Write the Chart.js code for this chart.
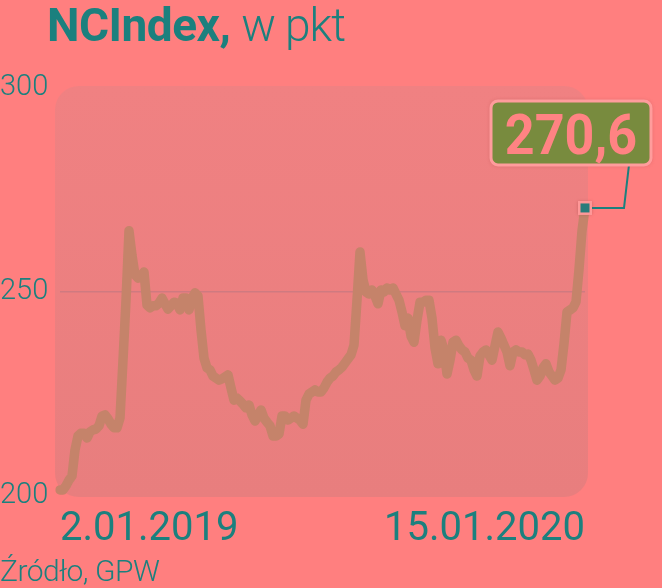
<!DOCTYPE html>
<html lang="pl">
<head>
<meta charset="utf-8">
<title>NCIndex</title>
<script src="https://cdn.jsdelivr.net/npm/chart.js@4/dist/chart.umd.min.js"></script>
<style>
  html, body { margin: 0; padding: 0; }
  body {
    width: 662px; height: 588px; overflow: hidden; position: relative;
    background: #ff7f7f; font-family: Roboto, "Noto Sans", sans-serif; color: #1b807e;
  }
  #wrap { position: absolute; left: 0; top: 0; width: 662px; height: 588px; }
  .tytul { position: absolute; left: 47px; top: 1px; font-size: 46px; line-height: 48px; white-space: nowrap; letter-spacing: -0.5px; }
  .tytul b { font-weight: 700; }
  .tytul span { font-weight: 300; letter-spacing: -1px; }
  .zrodlo { position: absolute; left: 0; top: 556px; font-size: 30px; line-height: 30px; font-weight: 300; letter-spacing: -0.5px; }
</style>
</head>
<body>
<div id="wrap"><canvas id="wykres" width="662" height="588"></canvas></div>
<div class="tytul"><b>NCIndex,</b> <span>w pkt</span></div>
<div class="zrodlo">Źródło, GPW</div>
<script>
// ── Dane ──
const DATA_START = '2.01.2019';
const DATA_KONIEC = '15.01.2020';
const OS_Y = [200, 250, 300];
const OSTATNIA = '270,6';

const notowania = [
  201.5, 201.5, 202.5, 203.9, 204.9, 211.3, 214.7, 215.4, 215.4, 214.2,
  215.7, 216.2, 216.4, 217.2, 219.6, 219.9, 218.9, 217.6, 216.7, 216.7,
  219.1, 233.3, 248.0, 265.0, 259.0, 254.2, 253.4, 253.9, 254.9, 246.8,
  246.1, 246.6, 246.6, 247.3, 248.5, 247.1, 245.8, 246.6, 247.5, 247.3,
  245.6, 248.5, 248.5, 245.6, 248.5, 249.8, 249.0, 240.7, 233.8, 231.4,
  230.9, 229.4, 228.9, 228.4, 228.7, 229.2, 229.7, 226.5, 223.5, 224.0,
  223.3, 222.5, 221.6, 222.3, 219.9, 218.4, 219.6, 221.1, 219.1, 218.1,
  217.2, 214.7, 214.7, 215.2, 219.6, 219.6, 218.6, 219.1, 219.6, 219.1,
  218.6, 217.6, 223.5, 225.0, 225.5, 226.0, 225.5, 225.5, 226.5, 227.9,
  228.9, 229.4, 230.4, 230.9, 231.6, 232.6, 233.6, 234.6, 237.0, 248.0,
  259.8, 253.0, 250.0, 249.5, 250.5, 249.0, 247.1, 250.5, 250.0, 251.0,
  250.5, 251.0, 249.5, 248.0, 245.1, 241.7, 243.6, 239.2, 237.7, 243.1,
  247.5, 247.5, 248.0, 248.0, 243.6, 236.3, 232.4, 238.2, 235.8, 229.9,
  233.3, 237.7, 238.2, 236.8, 235.8, 235.3, 233.8, 233.3, 230.9, 229.4,
  234.3, 235.3, 235.8, 234.6, 233.3, 236.8, 240.2, 238.7, 237.0, 235.3,
  231.9, 235.3, 235.8, 235.3, 235.3, 234.6, 234.8, 233.3, 230.9, 228.4,
  229.4, 231.4, 232.4, 230.4, 229.4, 228.4, 228.9, 230.9, 237.3, 245.1,
  245.6, 246.1, 247.6, 255.5, 265.0, 270.6
];

const TEAL = '#1b807e';
const ostatniIdx = notowania.length - 1;

// ── Tło obszaru wykresu (zaokrąglony prostokąt) ──
const tloPlugin = {
  id: 'tlo',
  beforeDraw(chart) {
    const { ctx, chartArea: a } = chart;
    const x = a.left - 5, y = a.top - 2, w = a.right - a.left + 8, h = a.bottom - a.top + 3;
    const g = ctx.createLinearGradient(0, y, 0, y + h);
    g.addColorStop(0, '#f08182');
    g.addColorStop(1, '#e87e7e');
    ctx.save();
    ctx.fillStyle = g;
    ctx.beginPath();
    ctx.roundRect(x, y, w, h, 24);
    ctx.fill();
    ctx.restore();
  }
};

// ── Etykieta ostatniej wartości ──
const etykietaPlugin = {
  id: 'etykieta',
  afterDatasetsDraw(chart) {
    const { ctx } = chart;
    const pt = chart.getDatasetMeta(0).data[ostatniIdx];
    const px = pt.x, py = pt.y;
    const bx = px - 94, by = py - 107, bw = 160, bh = 64;

    ctx.save();
    // linia łącząca
    ctx.strokeStyle = TEAL;
    ctx.lineWidth = 2;
    ctx.beginPath();
    ctx.moveTo(px + 4, py);
    ctx.lineTo(px + 39, py);
    ctx.lineTo(px + 44, by + bh);
    ctx.stroke();

    // ramka
    ctx.shadowColor = 'rgba(150,60,60,0.45)';
    ctx.shadowBlur = 4;
    ctx.fillStyle = '#788b3e';
    ctx.beginPath();
    ctx.roundRect(bx, by, bw, bh, 7);
    ctx.fill();
    ctx.shadowColor = 'transparent';
    ctx.strokeStyle = '#ff9c9c';
    ctx.lineWidth = 3;
    ctx.stroke();

    // tekst
    ctx.fillStyle = '#ff8383';
    ctx.font = '700 56px Roboto';
    ctx.textAlign = 'center';
    ctx.textBaseline = 'alphabetic';
    ctx.translate(bx + bw / 2, by + bh - 11);
    ctx.scale(0.93, 1);
    ctx.fillText(OSTATNIA, 0, 0);
    ctx.setTransform(1, 0, 0, 1, 0, 0);

    // znacznik
    ctx.shadowColor = 'rgba(150,60,60,0.4)';
    ctx.shadowBlur = 3;
    ctx.fillStyle = '#ff9898';
    ctx.fillRect(px - 7, py - 7, 14, 14);
    ctx.shadowColor = 'transparent';
    ctx.fillStyle = '#2a7c7b';
    ctx.fillRect(px - 4.5, py - 4.5, 9, 9);
    ctx.restore();
  }
};

new Chart(document.getElementById('wykres'), {
  type: 'line',
  data: {
    labels: notowania.map((_, i) => i),
    datasets: [{
      data: notowania,
      borderColor: '#c5836a',
      borderWidth: 9.5,
      borderCapStyle: 'round',
      borderJoinStyle: 'round',
      pointRadius: 0,
      tension: 0,
      fill: false,
    }],
  },
  options: {
    responsive: false,
    animation: false,
    events: [],
    layout: { padding: { left: 0, right: 77, top: 88, bottom: 0 } },
    plugins: { legend: { display: false }, tooltip: { enabled: false } },
    scales: {
      x: {
        type: 'category',
        offset: false,
        border: { display: false },
        grid: { display: false },
        afterFit(s) { s.height = 92; },
        ticks: {
          autoSkip: false,
          maxRotation: 0,
          align: 'inner',
          padding: 2,
          color: TEAL,
          font: { family: 'Roboto', size: 40, weight: '400' },
          callback: (v, i) => i === 0 ? DATA_START : (i === ostatniIdx ? DATA_KONIEC : ''),
        },
      },
      y: {
        min: OS_Y[0],
        max: OS_Y[OS_Y.length - 1],
        border: { display: false },
        afterFit(s) { s.width = 60; },
        afterBuildTicks(s) { s.ticks = OS_Y.map(v => ({ value: v })); },
        grid: {
          drawTicks: false,
          lineWidth: 1.5,
          color: c => c.tick && c.tick.value === 250 ? '#cf7a80' : 'transparent',
        },
        ticks: {
          crossAlign: 'far',
          padding: 0,
          color: TEAL,
          font: { family: 'Roboto', size: 29, weight: '300' },
        },
      },
    },
  },
  plugins: [tloPlugin, etykietaPlugin],
});
</script>
</body>
</html>
